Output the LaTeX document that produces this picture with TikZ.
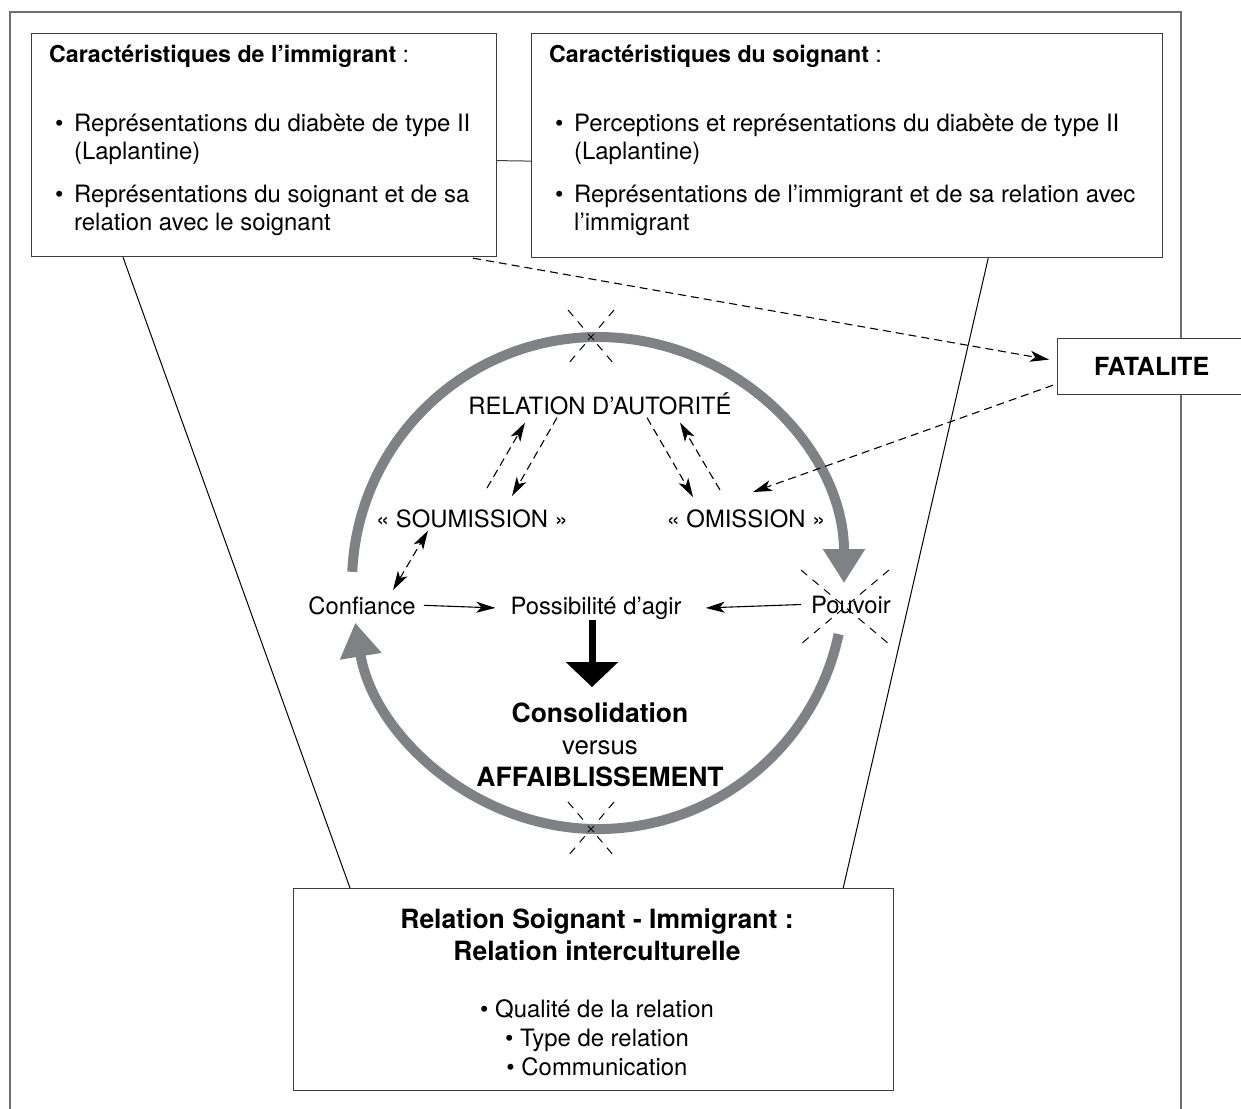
\documentclass[tikz,border=0pt]{standalone}
\usepackage{fontspec}
\setmainfont{TeX Gyre Heros}
\usetikzlibrary{arrows.meta}
\usetikzlibrary{positioning}
\definecolor{grisfleche}{RGB}{128,129,133}
\definecolor{grisbord}{RGB}{60,60,60}
\definecolor{griscadre}{RGB}{110,110,110}
\tikzset{boite/.style = {draw=grisbord, line width=1.2pt, fill=white, inner sep=0pt}}
\tikzset{texte/.style = {inner sep=0pt, font=\fontsize{23.8}{28}\selectfont}}
\tikzset{gras/.style = {inner sep=0pt, font=\bfseries\fontsize{26.5}{32}\selectfont}}
\tikzset{petit/.style = {inner sep=0pt, align=left, font=\fontsize{23.9}{28}\selectfont}}
\tikzset{entete/.style = {inner sep=0pt, font=\fontsize{23.2}{28}\selectfont}}
\tikzset{fil/.style = {line width=1pt}}
\tikzset{pointille/.style = {dash pattern=on 8pt off 5pt, line width=1.1pt}}
\tikzset{fin/.style = {-{Stealth[length=19pt, width=11pt, inset=5pt]}, line width=1.1pt}}
\tikzset{finfin/.style = {{Stealth[length=19pt, width=11pt, inset=5pt]}-{Stealth[length=19pt, width=11pt, inset=5pt]}, line width=1.1pt}}
\tikzset{croix/.style = {dash pattern=on 8pt off 7pt, line width=1pt}}
\tikzset{cercle/.style = {draw=grisfleche, line width=10pt, -{Triangle[length=34pt, width=40pt]}}}
\tikzset{epais/.style = {line width=7pt, -{Triangle[length=25pt, width=51pt]}}}

\begin{document}
\begin{tikzpicture}[x=1pt, y=-1pt]
  \useasboundingbox (0,0) rectangle (1241,1108);
  \draw[draw=griscadre, line width=1.2pt] (10,12) rectangle (1181,1130);

  % caracteristiques
  \node[boite, minimum width=465pt, minimum height=223pt, anchor=north west] (immig) at (31,33) {};
  \node[boite, minimum width=631pt, minimum height=224pt, anchor=north west] (soign) at (531,33) {};
  \draw[fil, draw=grisbord] ([yshift=-15.5pt]immig.east) -- ([yshift=-15.5pt]soign.west);

  \node[entete, anchor=base west] (immtitre) at (49,63) {\textbf{Caractéristiques de l’immigrant} :};
  \node[petit, anchor=base west] (immpuce1) at (55,131) {•};
  \node[petit, anchor=base west] (immtxt1) at (74,159) {Représentations du diabète de type II\\(Laplantine)};
  \node[petit, anchor=base west] (immpuce2) at (55,202) {•};
  \node[petit, anchor=base west] (immtxt2) at (74,230) {Représentations du soignant et de sa\\relation avec le soignant};

  \node[entete, anchor=base west] (soititre) at (549,63) {\textbf{Caractéristiques du soignant} :};
  \node[petit, anchor=base west] (soipuce1) at (555,131) {•};
  \node[petit, anchor=base west] (soitxt1) at (574,159) {Perceptions et représentations du diabète de type II\\(Laplantine)};
  \node[petit, anchor=base west] (soipuce2) at (555,202) {•};
  \node[petit, anchor=base west] (soitxt2) at (574,230) {Représentations de l’immigrant et de sa relation avec\\l’immigrant};

  \node[boite, font=\bfseries\fontsize{25}{30}\selectfont, minimum width=188pt, minimum height=56pt, anchor=north west] (fatal) at (1057,338) {FATALITE};

  % relation
  \node[boite, minimum width=600pt, minimum height=202pt, anchor=north west] (relation) at (293,888) {};
  \node[gras, align=center, anchor=base] (reltitre) at (597,960) {Relation Soignant - Immigrant :\\Relation interculturelle};
  \node[texte, align=center, anchor=base, font=\fontsize{23.9}{29}\selectfont] (relliste) at (597,1075) {• Qualité de la relation\\• Type de relation\\• Communication};

  \draw[fil] ([xshift=92pt]immig.south west) -- ([xshift=57pt]relation.north west);
  \draw[fil] ([xshift=-175pt]soign.south east) -- ([xshift=-51pt]relation.north east);

  % cercle
  \foreach \cx/\cy/\dx/\dy in {591/337/23/27, 591/829/23/27, 845/607/44/37} {
    \draw[croix] (\cx-\dx,\cy-\dy) -- (\cx+\dx,\cy+\dy);
    \draw[croix] (\cx+\dx,\cy-\dy) -- (\cx-\dx,\cy+\dy);
  }
  \coordinate (centre) at (598,583);
  \draw[cercle] (centre) ++(182.6:246) arc[start angle=182.6, end angle=360, radius=246];
  \draw[cercle] (centre) ++(12:246) arc[start angle=12, end angle=170.7, radius=246];
  \foreach \cx/\cy in {591/337, 591/829}
    \draw[line width=0.9pt] (\cx-3,\cy-3) -- (\cx+3,\cy+3) (\cx+3,\cy-3) -- (\cx-3,\cy+3);

  \node[texte, anchor=base] (relaut) at (600,414) {RELATION D’AUTORITÉ};
  \node[texte, anchor=base] (soum) at (472,527) {« SOUMISSION »};
  \node[texte, anchor=base] (omis) at (746,527) {« OMISSION »};
  \node[texte, anchor=base] (conf) at (362,614) {Confiance};
  \node[texte, anchor=base] (poss) at (596,614) {Possibilité d’agir};
  \node[texte, anchor=base] (pouv) at (851,613) {Pouvoir};
  \node[gras, anchor=base] (conso) at (600,722) {Consolidation};
  \node[texte, anchor=base, font=\fontsize{25.8}{30}\selectfont] (versus) at (600,754) {versus};
  \node[gras, anchor=base] (affai) at (600,786) {AFFAIBLISSEMENT};

  \draw[fin] ([xshift=8pt]conf.east) -- ([xshift=-15pt]poss.west);
  \draw[fin] ([xshift=-10pt]pouv.west) -- ([xshift=24pt]poss.east);
  \draw[epais] ([xshift=-4pt, yshift=-1pt]poss.south) -- ([xshift=-8pt, yshift=15pt]conso.north);

  \draw[pointille, fin] ([xshift=15pt, yshift=21pt]soum.north) -- ([xshift=-75pt, yshift=-8pt]relaut.south);
  \draw[pointille, fin] ([xshift=-43pt, yshift=-3pt]relaut.south) -- ([xshift=40pt, yshift=13pt]soum.north);
  \draw[pointille, fin] ([xshift=47pt, yshift=-3pt]relaut.south) -- ([xshift=-53pt, yshift=12pt]omis.north);
  \draw[pointille, fin] ([xshift=-26pt, yshift=19pt]omis.north) -- ([xshift=80pt, yshift=-8pt]relaut.south);
  \draw[pointille, finfin] ([xshift=31pt, yshift=6pt]conf.north) -- ([xshift=-44pt, yshift=-3pt]soum.south);

  \draw[pointille, fin] ([xshift=-24pt, yshift=-1pt]immig.south east) -- ([xshift=-8pt, yshift=7pt]fatal.west);
  \draw[pointille, fin] ([xshift=-4pt, yshift=10pt]fatal.south west) -- ([xshift=7pt, yshift=17pt]omis.north);
\end{tikzpicture}
\end{document}
